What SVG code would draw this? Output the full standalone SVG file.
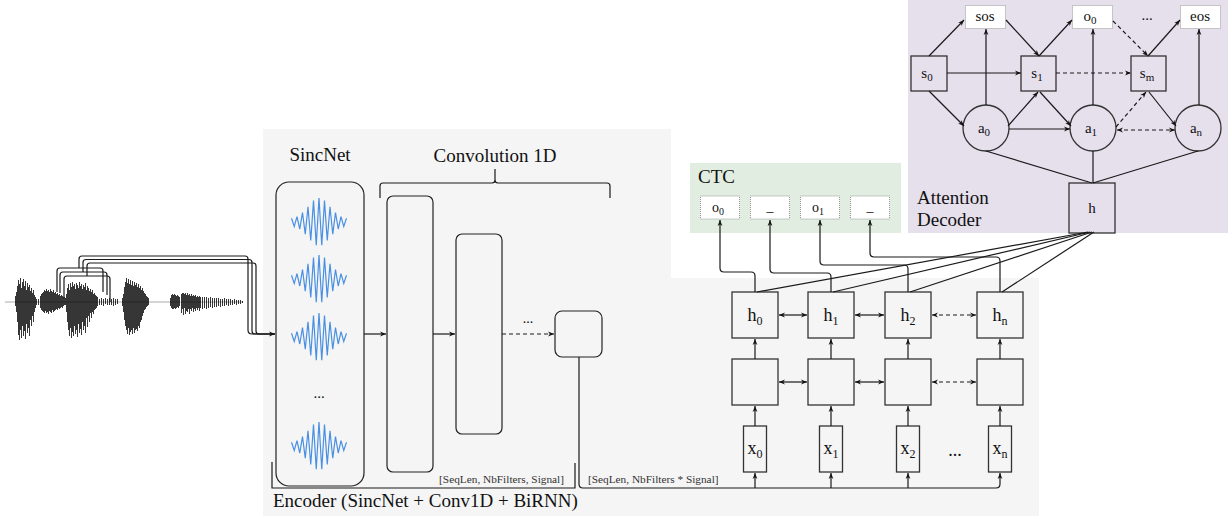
<svg xmlns="http://www.w3.org/2000/svg" xmlns:xlink="http://www.w3.org/1999/xlink" width="1228" height="516" viewBox="0 0 1228 516">
<style>
text{font-family:"Liberation Serif","Times New Roman","DejaVu Serif",serif}
.t{fill:#111}
.big{font-size:19px}
.lbl{font-size:18px;text-anchor:middle}
.al{font-size:15px;text-anchor:middle}
.cl{font-size:14px;text-anchor:middle}
.sm{font-size:11.3px;fill:#333}
.ln{fill:none;stroke:#1a1a1a;stroke-width:1.2}
.ar{marker-end:url(#ah)}
.bi{marker-start:url(#ah);marker-end:url(#ah)}
.da{stroke-dasharray:4 3}
.nb{fill:#f5f5f5;stroke:#333;stroke-width:1.3}
.pb{fill:#e6dfec;stroke:#333;stroke-width:1.3}
.ob{fill:#fff;stroke:#999;stroke-width:1;stroke-dasharray:1 1}
.sinc{fill:none;stroke:#4a90e2;stroke-width:1.2;stroke-linejoin:miter}
</style>
<defs>
<marker id="ah" viewBox="0 0 10 10" refX="10" refY="5" markerWidth="6" markerHeight="6" markerUnits="userSpaceOnUse" orient="auto-start-reverse">
<path d="M0,1 L10,5 L0,9 L3,5 z" fill="#111"/>
</marker>
<path id="sincw" class="sinc" d="M-27.5 -3.7 L-24.75 4.4 L-22 -5.4 L-19.25 7 L-16.5 -9.3 L-13.75 12.1 L-11 -15.3 L-8.25 18.5 L-5.5 -21.4 L-2.75 23.3 L0 -24 L2.75 23.3 L5.5 -21.4 L8.25 18.5 L11 -15.3 L13.75 12.1 L16.5 -9.3 L19.25 7 L22 -5.4 L24.75 4.4 L27.5 -3.7"/>
</defs>

<g id="backgrounds">
<path d="M263 129H671V278H1039V516H263Z" fill="#f5f5f5"/>
<rect x="690" y="163" width="211" height="70" fill="#e1ede0"/>
<rect x="908" y="0" width="320" height="233" fill="#e6dfec"/>
</g>

<g id="waveform">
<path d="M5 302H243" stroke="#aaa" stroke-width="1" fill="none"/>
<g transform="translate(0.5,0)" stroke="#000" stroke-opacity="0.88" stroke-width="0.9" fill="none">
<path d="M15 296V306M16 292V312M17 286V322M18 280V335M19 284V340M20 278V330M21 288V338M22 282V326M23 279V336M24 286V331M25 281V339M26 290V324M27 283V333M28 287V328M29 285V336M30 291V320M31 288V326M32 293V316M33 290V322M34 295V312M35 297V308M36 299V305"/>
<path d="M38 299V305M40 296V308M41 294V310M42 293V311M43 292V312M44 290V313M45 291V311M46 289V313M47 291V312M48 290V314M49 292V311M50 289V312M51 291V313M52 292V310M53 290V312M54 293V311M55 292V310M56 294V309M57 293V310M58 295V308M59 294V309M60 296V308M61 295V307M62 296V308M63 297V306M64 297V305M65 298V305"/>
<path d="M66 294V312M67 288V322M68 284V330M69 290V336M70 283V328M71 287V338M72 282V332M73 286V336M74 284V326M75 289V334M76 283V330M77 285V337M78 288V324M79 282V333M80 286V329M81 284V335M82 289V322M83 285V330M84 287V326M85 283V333M86 290V318M87 286V327M88 288V316M89 291V322M90 289V313M91 292V318M92 290V312M93 294V314M94 293V310M95 295V309M96 296V308M97 297V306"/>
<path d="M99 299V305M101 298V305M103 299V306M105 298V304M107 299V305M109 298V305M111 299V305M113 298V306M115 299V305M117 299V304"/>
<path d="M122 298V306M123 294V312M124 287V320M125 282V326M126 278V330M127 283V334M128 279V328M129 284V335M130 280V332M131 285V330M132 281V334M133 286V328M134 282V333M135 285V330M136 283V329M137 287V331M138 284V326M139 288V328M140 286V322M141 290V320M142 288V316M143 291V313M144 293V310M145 294V309M146 296V307M147 297V306M148 298V305"/>
<path d="M170 298V306M171 295V308M172 294V309M173 295V309M174 294V308M175 295V309M176 296V308M177 295V307M178 296V308M179 297V306"/>
<path d="M181 294V313M182 293V309M183 293V315M184 294V308M185 293V314M186 295V311M187 293V312M188 295V309M189 294V314M190 296V309M191 294V311M192 296V308M193 295V312M194 296V309M195 295V311M196 297V308M197 296V310M198 297V308M199 296V311M200 297V308M202 297V309M204 297V308M206 297V309M208 298V308M210 297V307M212 298V308M214 298V307M216 298V307M218 298V306M220 299V307M222 299V306M224 298V306M226 299V305M228 299V306M230 299V305M232 300V305M234 299V304M236 300V305M238 300V304M240 300V304M242 301V303"/>
</g>
</g>

<g id="sincnet">
<text class="t big" x="320" y="161" text-anchor="middle">SincNet</text>
<rect x="276" y="182" width="88" height="304" rx="13" fill="none" stroke="#222" stroke-width="1.2"/>
<use xlink:href="#sincw" x="319" y="222"/>
<use xlink:href="#sincw" x="319" y="279"/>
<use xlink:href="#sincw" x="319" y="337"/>
<text class="t" x="319" y="398" font-size="15" text-anchor="middle">...</text>
<use xlink:href="#sincw" x="319" y="446"/>
</g>

<g id="conv1d">
<text class="t big" x="495" y="162" text-anchor="middle">Convolution 1D</text>
<path class="ln" d="M380 198V186Q380 183 383 183H492Q495 183 495 180V169M495 180Q495 183 498 183H607Q610 183 610 186V198"/>
<rect x="387" y="196" width="46" height="276" rx="6" fill="none" stroke="#222" stroke-width="1.2"/>
<rect x="456" y="234" width="46" height="200" rx="6" fill="none" stroke="#222" stroke-width="1.2"/>
<rect x="555" y="311" width="47" height="46" rx="7" fill="none" stroke="#222" stroke-width="1.2"/>
<text class="t" x="528" y="323" font-size="14" text-anchor="middle">...</text>
</g>

<g id="encoder-labels">
<path class="ln" d="M272 462V488H575V463"/>
<text class="t sm" x="564" y="483" text-anchor="end">[SeqLen, NbFilters, Signal]</text>
<text class="t sm" x="588" y="483">[SeqLen, NbFilters * Signal]</text>
<text class="t big" x="273" y="507">Encoder (SincNet + Conv1D + BiRNN)</text>
</g>

<g id="birnn-h">
<rect class="nb" x="732" y="292" width="46" height="46"/>
<text class="t lbl" x="755" y="321">h<tspan font-size="12" dy="4">0</tspan></text>
<rect class="nb" x="808" y="292" width="46" height="46"/>
<text class="t lbl" x="831" y="321">h<tspan font-size="12" dy="4">1</tspan></text>
<rect class="nb" x="885" y="292" width="46" height="46"/>
<text class="t lbl" x="908" y="321">h<tspan font-size="12" dy="4">2</tspan></text>
<rect class="nb" x="977" y="292" width="46" height="46"/>
<text class="t lbl" x="1000" y="321">h<tspan font-size="12" dy="4">n</tspan></text>
</g>
<g id="birnn-mid">
<rect class="nb" x="732" y="359" width="46" height="46"/>
<rect class="nb" x="808" y="359" width="46" height="46"/>
<rect class="nb" x="885" y="359" width="46" height="46"/>
<rect class="nb" x="977" y="359" width="46" height="46"/>
</g>
<g id="birnn-x">
<rect class="nb" x="743.5" y="426" width="23" height="46"/>
<text class="t lbl" x="755" y="454">x<tspan font-size="12" dy="4">0</tspan></text>
<rect class="nb" x="819.5" y="426" width="23" height="46"/>
<text class="t lbl" x="831" y="454">x<tspan font-size="12" dy="4">1</tspan></text>
<rect class="nb" x="896.5" y="426" width="23" height="46"/>
<text class="t lbl" x="908" y="454">x<tspan font-size="12" dy="4">2</tspan></text>
<text class="t lbl" x="955" y="456">...</text>
<rect class="nb" x="988.5" y="426" width="23" height="46"/>
<text class="t lbl" x="1000" y="454">x<tspan font-size="12" dy="4">n</tspan></text>
</g>

<g id="ctc">
<text class="t big" x="698" y="183">CTC</text>
<rect class="ob" x="700.5" y="196" width="39" height="23"/>
<text class="t cl" x="718" y="212">o<tspan font-size="10" dy="3">0</tspan></text>
<rect class="ob" x="750.5" y="196" width="39" height="23"/>
<text class="t cl" x="770" y="211">_</text>
<rect class="ob" x="800.5" y="196" width="39" height="23"/>
<text class="t cl" x="818" y="212">o<tspan font-size="10" dy="3">1</tspan></text>
<rect class="ob" x="850.5" y="196" width="39" height="23"/>
<text class="t cl" x="870" y="211">_</text>
</g>

<g id="attention">
<text class="t big" x="917" y="204">Attention</text>
<text class="t big" x="917" y="226">Decoder</text>
<rect class="ob" x="965.5" y="5.5" width="40" height="23"/>
<text class="t al" x="985" y="21">sos</text>
<rect class="ob" x="1072.5" y="5.5" width="40" height="23"/>
<text class="t al" x="1090" y="21">o<tspan font-size="11" dy="3">0</tspan></text>
<text class="t al" x="1147" y="20">...</text>
<rect class="ob" x="1180.5" y="5.5" width="40" height="23"/>
<text class="t al" x="1200" y="21">eos</text>
<rect class="pb" x="911" y="56" width="36" height="35"/>
<text class="t al" x="927" y="78">s<tspan font-size="11" dy="3">0</tspan></text>
<rect class="pb" x="1021" y="56" width="35" height="35"/>
<text class="t al" x="1037" y="78">s<tspan font-size="11" dy="3">1</tspan></text>
<rect class="pb" x="1131" y="56" width="35" height="35"/>
<text class="t al" x="1147" y="78">s<tspan font-size="11" dy="3">m</tspan></text>
<circle class="pb" cx="986" cy="128" r="23"/>
<text class="t al" x="984" y="133">a<tspan font-size="11" dy="3">0</tspan></text>
<circle class="pb" cx="1093" cy="128" r="23"/>
<text class="t al" x="1091" y="133">a<tspan font-size="11" dy="3">1</tspan></text>
<circle class="pb" cx="1198" cy="128" r="23"/>
<text class="t al" x="1196" y="133">a<tspan font-size="11" dy="3">n</tspan></text>
<rect class="pb" x="1069" y="183" width="46" height="50"/>
<text class="t al" x="1092" y="213">h</text>
</g>

<g id="connectors">
<path class="ln" stroke-width="1.3" d="M57 292V271Q57 268 60 268H100Q103 268 103 271V292"/>
<path class="ln" stroke-width="1.3" d="M60 293V275Q60 272 63 272H104Q107 272 107 275V295"/>
<path class="ln" stroke-width="1.3" d="M64 298V279Q64 276 67 276H107Q110 276 110 279V302"/>
<path class="ln" stroke-width="1.3" d="M79 268V259Q79 256 82 256H245Q248 256 248 259V330Q248 334 252 334H275"/>
<path class="ln" stroke-width="1.3" d="M83 272V262.5Q83 259.5 86 259.5H249Q252 259.5 252 262.5V331Q252 334 255 334H275"/>
<path class="ln ar" stroke-width="1.3" d="M87 276V266Q87 263 90 263H253Q256 263 256 266V331Q256 334 259 334H275"/>

<path class="ln ar" d="M364 334H386"/>
<path class="ln ar" d="M433 334H455"/>
<path class="ln ar da" d="M502 334H554"/>

<path class="ln ar" d="M579 357V484Q579 488 583 488H996Q1000 488 1000 484V473"/>
<path class="ln ar" d="M755 488V473"/>
<path class="ln ar" d="M831 488V473"/>
<path class="ln ar" d="M908 488V473"/>

<path class="ln ar" d="M755 426V406"/>
<path class="ln ar" d="M831 426V406"/>
<path class="ln ar" d="M908 426V406"/>
<path class="ln ar" d="M1000 426V406"/>
<path class="ln ar" d="M755 359V339"/>
<path class="ln ar" d="M831 359V339"/>
<path class="ln ar" d="M908 359V339"/>
<path class="ln ar" d="M1000 359V339"/>

<path class="ln bi" d="M779 315H807"/>
<path class="ln bi" d="M855 315H884"/>
<path class="ln bi da" d="M932 315H976"/>
<path class="ln bi" d="M779 382H807"/>
<path class="ln bi" d="M855 382H884"/>
<path class="ln bi da" d="M932 382H976"/>

<path class="ln ar" d="M755 292V276Q755 272 751 272H724Q720 272 720 268V220"/>
<path class="ln ar" d="M831 292V277Q831 273 827 273H774Q770 273 770 269V220"/>
<path class="ln ar" d="M908 292V269Q908 265 904 265H824Q820 265 820 261V220"/>
<path class="ln ar" d="M1000 292V261Q1000 257 996 257H874Q870 257 870 253V220"/>

<path class="ln" d="M757 292L1088 232"/>
<path class="ln" d="M833 292L1090 232"/>
<path class="ln" d="M910 292L1092 232"/>
<path class="ln" d="M1002 292L1094 232"/>

<path class="ln ar" d="M929 56L964 20"/>
<path class="ln ar" d="M1006 20L1039 56"/>
<path class="ln ar" d="M1039 56L1072 20"/>
<path class="ln ar da" d="M1113 21L1148 56"/>
<path class="ln ar" d="M1148 56L1180 20"/>
<path class="ln ar" d="M986 105V29"/>
<path class="ln ar" d="M1093 105V29"/>
<path class="ln ar" d="M1199 105V29"/>
<path class="ln ar" d="M947 73H1021"/>
<path class="ln ar da" d="M1056 73H1131"/>
<path class="ln ar" d="M929 91L964 126"/>
<path class="ln ar" d="M1008 126L1038 92"/>
<path class="ln ar" d="M1040 92L1071 126"/>
<path class="ln ar" d="M1009 129H1070"/>
<path class="ln ar da" d="M1116 127L1146 92"/>
<path class="ln ar" d="M1149 92L1176 126"/>
<path class="ln bi da" d="M1117 130H1175"/>
<path class="ln" d="M986 151L1092 183"/>
<path class="ln" d="M1093 151V183"/>
<path class="ln" d="M1198 151L1093 183"/>
</g>
</svg>
